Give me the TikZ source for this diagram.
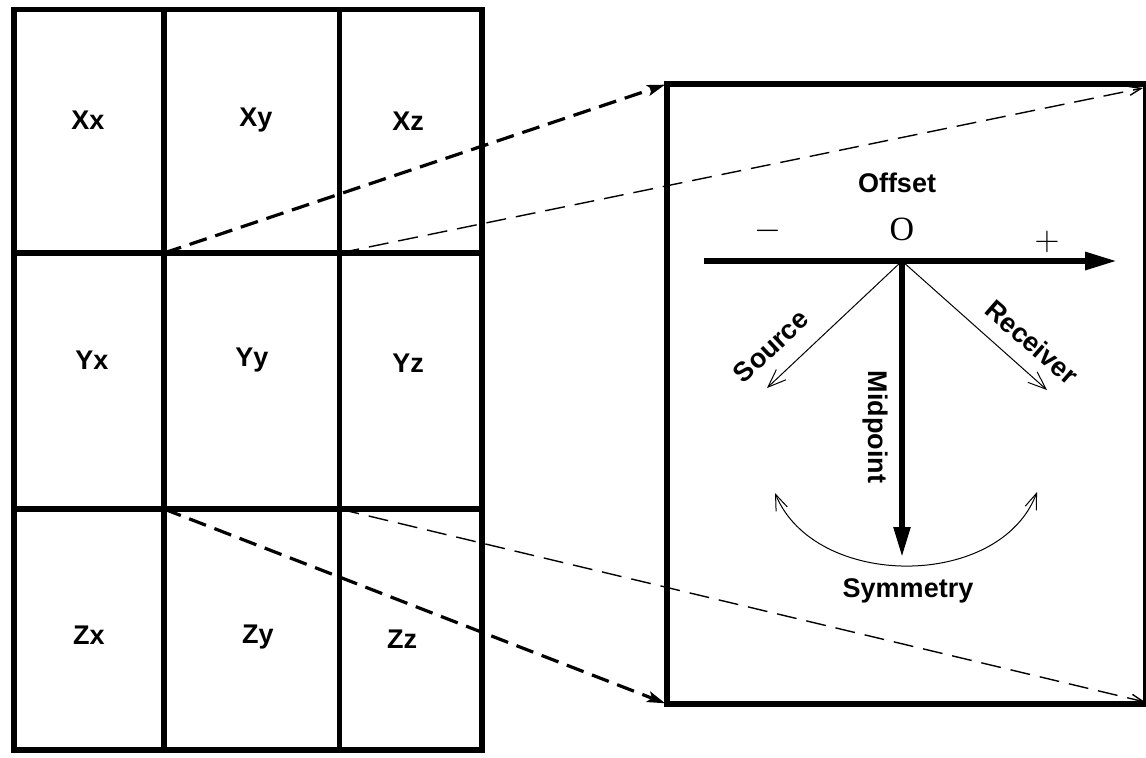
\documentclass[tikz,border=0pt]{standalone}
\usepackage{fontspec}
\setmainfont{Liberation Serif}
\setsansfont{Liberation Sans}
\usetikzlibrary{arrows.meta}

\begin{document}
\begin{tikzpicture}[x=0.5pt,y=-0.5pt,
  gridline/.style={line width=2.6pt,line cap=rect},
  panelline/.style={line width=2.7pt,line join=miter},
  cell/.style={font=\sffamily\bfseries\fontsize{13.5}{16}\selectfont,inner sep=0pt},
  caption/.style={font=\sffamily\bfseries\fontsize{13.5}{16}\selectfont,inner sep=0pt},
  signlabel/.style={font=\fontsize{19}{21}\selectfont,inner sep=0pt,anchor=base},
  zoomthick/.style={line width=1.6pt,dash pattern=on 9pt off 4.5pt,
    -{Stealth[length=9pt,width=5.5pt,inset=2pt]},shorten >=1pt},
  zoomthin/.style={line width=0.7pt,dash pattern=on 10pt off 5pt,
    -{Straight Barb[length=6pt,width=4.5pt]}},
  axis/.style={line width=3pt,-{Triangle[length=16pt,width=8.5pt]}},
  ray/.style={line width=0.5pt,-{Straight Barb[length=9pt,width=7pt]}},
  swing/.style={line width=0.5pt,
    {Straight Barb[length=8pt,width=6pt]}-{Straight Barb[length=8pt,width=6pt]}}]

\useasboundingbox (0,0) rectangle (1146,757);

% ---- 3x3 grid of cells ----
\coordinate (gTL) at (14,9.5);
\coordinate (gBR) at (482,750);
\coordinate (c1t) at (164,9.5);  \coordinate (c1b) at (164,750);
\coordinate (c2t) at (339.5,9.5);\coordinate (c2b) at (339.5,750);
\coordinate (r1l) at (14,253);   \coordinate (r1r) at (482,253);
\coordinate (r2l) at (14,509);   \coordinate (r2r) at (482,509);
\coordinate (a1) at (164,253);   \coordinate (b1) at (339.5,253);
\coordinate (a2) at (164,509);   \coordinate (b2) at (339.5,509);

\draw[gridline] (gTL) rectangle (gBR);
\draw[gridline] (c1t) -- (c1b);
\draw[gridline] (c2t) -- (c2b);
\draw[gridline] (r1l) -- (r1r);
\draw[gridline] (r2l) -- (r2r);

\node[cell] (xx) at (88,120)  {Xx};
\node[cell] (xy) at (256,120) {Xy};
\node[cell] (xz) at (408,121) {Xz};
\node[cell] (yx) at (92,360)  {Yx};
\node[cell] (yy) at (252,360) {Yy};
\node[cell] (yz) at (408,363) {Yz};
\node[cell] (zx) at (89,635)  {Zx};
\node[cell] (zy) at (258,637) {Zy};
\node[cell] (zz) at (402,639) {Zz};

% ---- enlarged panel ----
\coordinate (pTL) at (667,84);
\coordinate (pBR) at (1146,704);
\coordinate (pTR) at (1143,88);
\coordinate (pBRin) at (1145,702);
\coordinate (pBL) at (667,704);
\draw[panelline] (pTL) rectangle (pBR);

% zoom connectors
\draw[zoomthick] (a1) -- (pTL);
\draw[zoomthick] (a2) -- (pBL);
\draw[zoomthin] (b1) -- (pTR);
\draw[zoomthin] (b2) -- (pBRin);

% ---- offset axis and directions ----
\coordinate (o) at (902,261);
\coordinate (axL) at (704,261);
\coordinate (axR) at (1117,261);
\coordinate (mid) at (902,557);
\coordinate (src) at (767,388);
\coordinate (rcv) at (1047,390);
\coordinate (symL) at (775,493);
\coordinate (symR) at (1037,492);

\draw[axis] (axL) -- (axR);
\draw[axis,line width=2.6pt,-{Triangle[length=15pt,width=8pt]}] (o) -- (mid);
\draw[ray] (o) -- (src);
\draw[ray] (o) -- (rcv);
\draw[swing] (symL) .. controls (815,590) and (1000,590) .. (symR);

\node[caption] (offset) at (897,183) {Offset};
\node[signlabel] (minus) at (768,239.5) {$-$};
\node[signlabel,font=\rmfamily\fontsize{17}{19}\selectfont] (zero) at (902,240.5) {O};
\node[signlabel] (plus) at (1047,250.5) {$+$};
\node[caption,rotate=43] (source) at (771,346) {Source};
\node[caption,rotate=-41] (receiver) at (1032,342) {Receiver};
\node[caption,rotate=-90] (midpoint) at (875,427) {Midpoint};
\node[caption] (symmetry) at (908,591) {Symmetry};

\end{tikzpicture}
\end{document}
